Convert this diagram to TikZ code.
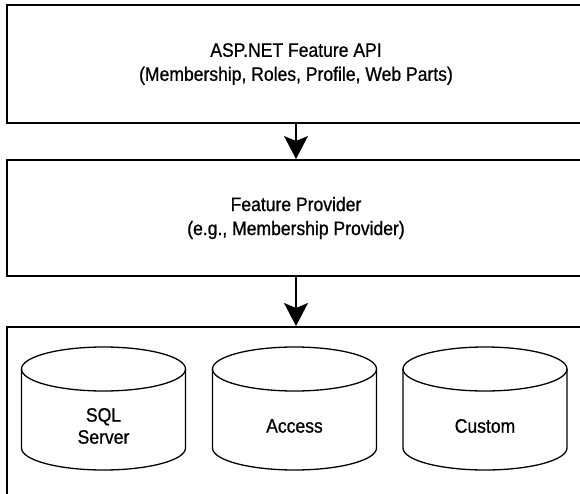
\documentclass[tikz,border=0pt]{standalone}
\usepackage{fontspec}
\setmainfont{Liberation Sans}[FakeStretch=0.9, FakeBold=0.8]
\usetikzlibrary{arrows.meta, positioning}

\begin{document}
\begin{tikzpicture}[
  x=1pt, y=-1pt,
  layerbox/.style={draw=black, line width=2pt, minimum width=578pt, align=center, inner sep=0pt, font=\fontsize{19.5}{24}\selectfont},
  storeline/.style={draw=black, line width=1.3pt},
  storetext/.style={align=center, inner sep=0pt, font=\fontsize{19.5}{22}\selectfont},
  flow/.style={-{Stealth[length=23pt, width=24pt, inset=5pt]}, line width=1.5pt}
]
  \useasboundingbox (0,0) rectangle (580,494);

  \node[layerbox, minimum height=118pt] (api) at (296,64) {
    ASP.NET Feature API\\
    (Membership, Roles, Profile, Web Parts)
  };
  \node[layerbox, minimum height=116pt] (provider) at (296,218) {
    Feature Provider\\
    (e.g., Membership Provider)
  };
  \node[layerbox, minimum height=200pt] (stores) at (296,427) {};

  % the three data stores
  \foreach \cx/\name/\txt in {103.5/sql/{SQL\\Server}, 294.5/access/Access, 485/custom/Custom} {
    \draw[storeline] (\cx-82,369) -- (\cx-82,448)
      arc[start angle=180, end angle=0, x radius=82, y radius=22] -- (\cx+82,369);
    \draw[storeline] (\cx,369) ellipse[x radius=82, y radius=22];
    \node[storetext] (\name) at (\cx,426) {\txt};
  }

  \draw[flow] (api) -- (provider);
  \draw[flow] (provider) -- (stores);
\end{tikzpicture}
\end{document}
